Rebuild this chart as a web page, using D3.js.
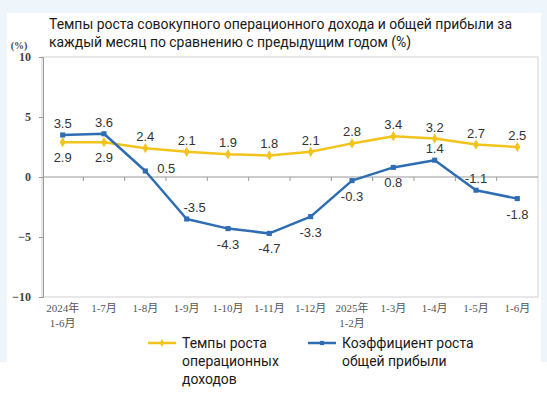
<!DOCTYPE html>
<html>
<head>
<meta charset="utf-8">
<script src="https://cdn.jsdelivr.net/npm/d3@7"></script>
<style>
  body { margin: 0; background: #fff; }
  svg { display: block; }
</style>
</head>
<body>
<div id="chart"></div>
<script>
// data
const months = ['2024年\n1-6月', '1-7月', '1-8月', '1-9月', '1-10月', '1-11月', '1-12月',
  '2025年\n1-2月', '1-3月', '1-4月', '1-5月', '1-6月'];
const revenueGrowth = [2.9, 2.9, 2.4, 2.1, 1.9, 1.8, 2.1, 2.8, 3.4, 3.2, 2.7, 2.5];
const profitGrowth = [3.5, 3.6, 0.5, -3.5, -4.3, -4.7, -3.3, -0.3, 0.8, 1.4, -1.1, -1.8];
const yTicks = [-10, -5, 0, 5, 10];
const titleLines = ['Темпы роста совокупного операционного дохода и общей прибыли за',
  'каждый месяц по сравнению с предыдущим годом (%)'];
const seriesNames = [['Темпы роста', 'операционных', 'доходов'], ['Коэффициент роста', 'общей прибыли']];

// where each value label sits: a = above, b = below, r = right, ar = above right
const revenueLabelPos = ['b', 'b', 'a', 'a', 'a', 'a', 'a', 'a', 'a', 'a', 'a', 'a'];
const profitLabelPos = ['a', 'a', 'r', 'ar', 'b', 'b', 'b', 'b', 'b', 'a', 'a', 'b'];

const width = 547;
const height = 398;
const yellow = '#F2C31B';
const blue = '#2F6DB3';
const textFont = 'Roboto, "Noto Sans", sans-serif';

const svg = d3.select('#chart').append('svg')
  .attr('width', width)
  .attr('height', height);

// faint blue backdrop of the screenshot
svg.append('rect').attr('width', width).attr('height', 362).attr('fill', '#EEF5FB');
svg.append('rect').attr('x', 7).attr('y', 13).attr('width', 534).attr('height', 349).attr('fill', '#fff');

// the original text face is a bit narrower, squeeze to fit
let squeeze = 1;
function condense(sel) {
  sel.each(function () {
    const w = this.getComputedTextLength();
    d3.select(this).attr('textLength', w * squeeze).attr('lengthAdjust', 'spacingAndGlyphs');
  });
}

// title
const title = svg.append('g')
  .attr('font-family', textFont)
  .attr('font-size', 14.5)
  .attr('fill', '#1a1a1a');
const titleText = title.selectAll('text')
  .data(titleLines)
  .enter()
  .append('text')
  .attr('x', 49)
  .attr('y', (d, i) => 29 + i * 18)
  .text((d) => d);
squeeze = 463 / titleText.node().getComputedTextLength();
condense(titleText);

const x = d3.scaleBand().domain(months).range([42, 538]);
const y = d3.scaleLinear().domain([-10, 10]).range([297, 57]);
const cx = (i) => x(months[i]) + x.bandwidth() / 2;

// plot frame
svg.append('rect')
  .attr('x', 42).attr('y', y(10))
  .attr('width', 496).attr('height', y(-10) - y(10))
  .attr('fill', '#fff')
  .attr('stroke', '#cfcfcf');

// y axis
const yAxis = svg.append('g')
  .attr('transform', 'translate(43,0)')
  .call(d3.axisLeft(y).tickValues(yTicks).tickSize(4).tickPadding(8));
yAxis.select('.domain').attr('stroke', '#999');
yAxis.selectAll('.tick line').attr('stroke', '#999');
yAxis.selectAll('.tick text')
  .attr('font-family', '"Liberation Serif", serif')
  .attr('font-weight', 'bold')
  .attr('font-size', 12)
  .attr('fill', '#444');

svg.append('text')
  .attr('x', 19).attr('y', 49)
  .attr('text-anchor', 'middle')
  .attr('font-family', '"Liberation Serif", serif')
  .attr('font-weight', 'bold')
  .attr('font-size', 10)
  .attr('fill', '#444')
  .text('(%)');

// zero line with category ticks
svg.append('line')
  .attr('x1', 43).attr('x2', 538)
  .attr('y1', y(0)).attr('y2', y(0))
  .attr('stroke', '#999');
svg.append('g').selectAll('line')
  .data(months.slice(1))
  .enter()
  .append('line')
  .attr('x1', (d) => x(d)).attr('x2', (d) => x(d))
  .attr('y1', y(0)).attr('y2', y(0) + 4)
  .attr('stroke', '#999');

// x labels
const xLabels = svg.append('g');
months.forEach((m, i) => {
  const t = xLabels.append('text')
    .attr('text-anchor', 'middle')
    .attr('font-family', '"Liberation Serif", "Noto Sans CJK SC", serif')
    .attr('font-size', 11)
    .attr('fill', '#555');
  m.split('\n').forEach((line, j) => {
    t.append('tspan').attr('x', cx(i)).attr('y', 312 + j * 15).text(line);
  });
});

// lines
const line = d3.line().x((d, i) => cx(i)).y((d) => y(d));

function drawSeries(values, color, marker, labelPos) {
  const g = svg.append('g');
  g.append('path')
    .datum(values)
    .attr('d', line)
    .attr('fill', 'none')
    .attr('stroke', color)
    .attr('stroke-width', 2.5)
    .attr('stroke-linejoin', 'round');
  g.selectAll('.mark')
    .data(values)
    .enter()
    .append('path')
    .attr('d', d3.symbol().type(marker).size(marker === d3.symbolDiamond ? 30 : 26))
    .attr('transform', (d, i) => `translate(${cx(i)},${y(d)})`)
    .attr('fill', color);
  g.selectAll('.val')
    .data(values)
    .enter()
    .append('text')
    .attr('x', (d, i) => {
      const p = labelPos[i];
      if (p === 'r') return cx(i) + 21;
      if (p === 'ar') return cx(i) + 8;
      return cx(i);
    })
    .attr('y', (d, i) => {
      const p = labelPos[i];
      if (p === 'a' || p === 'ar') return y(d) - 7;
      if (p === 'b') return y(d) + 20;
      return y(d) + 2;
    })
    .attr('text-anchor', 'middle')
    .attr('font-family', '"Liberation Sans", Arial, sans-serif')
    .attr('font-size', 13)
    .attr('fill', '#333')
    .text((d) => d.toFixed(1));
}

drawSeries(revenueGrowth, yellow, d3.symbolDiamond, revenueLabelPos);
drawSeries(profitGrowth, blue, d3.symbolSquare, profitLabelPos);

// legend
const legendItems = [
  { color: yellow, marker: d3.symbolDiamond, x: 148, names: seriesNames[0] },
  { color: blue, marker: d3.symbolSquare, x: 308, names: seriesNames[1] },
];
legendItems.forEach((item) => {
  const g = svg.append('g').attr('transform', `translate(${item.x},343)`);
  g.append('line').attr('x1', 0).attr('x2', 28)
    .attr('stroke', item.color).attr('stroke-width', 2.5);
  g.append('path')
    .attr('d', d3.symbol().type(item.marker).size(18))
    .attr('transform', 'translate(14,0)')
    .attr('fill', item.color);
  const names = g.selectAll('text')
    .data(item.names)
    .enter()
    .append('text')
    .attr('x', 34)
    .attr('y', (d, j) => 5 + j * 18)
    .attr('font-family', textFont)
    .attr('font-size', 14.5)
    .attr('fill', '#1a1a1a')
    .text((d) => d);
  condense(names);
});
</script>
</body>
</html>
